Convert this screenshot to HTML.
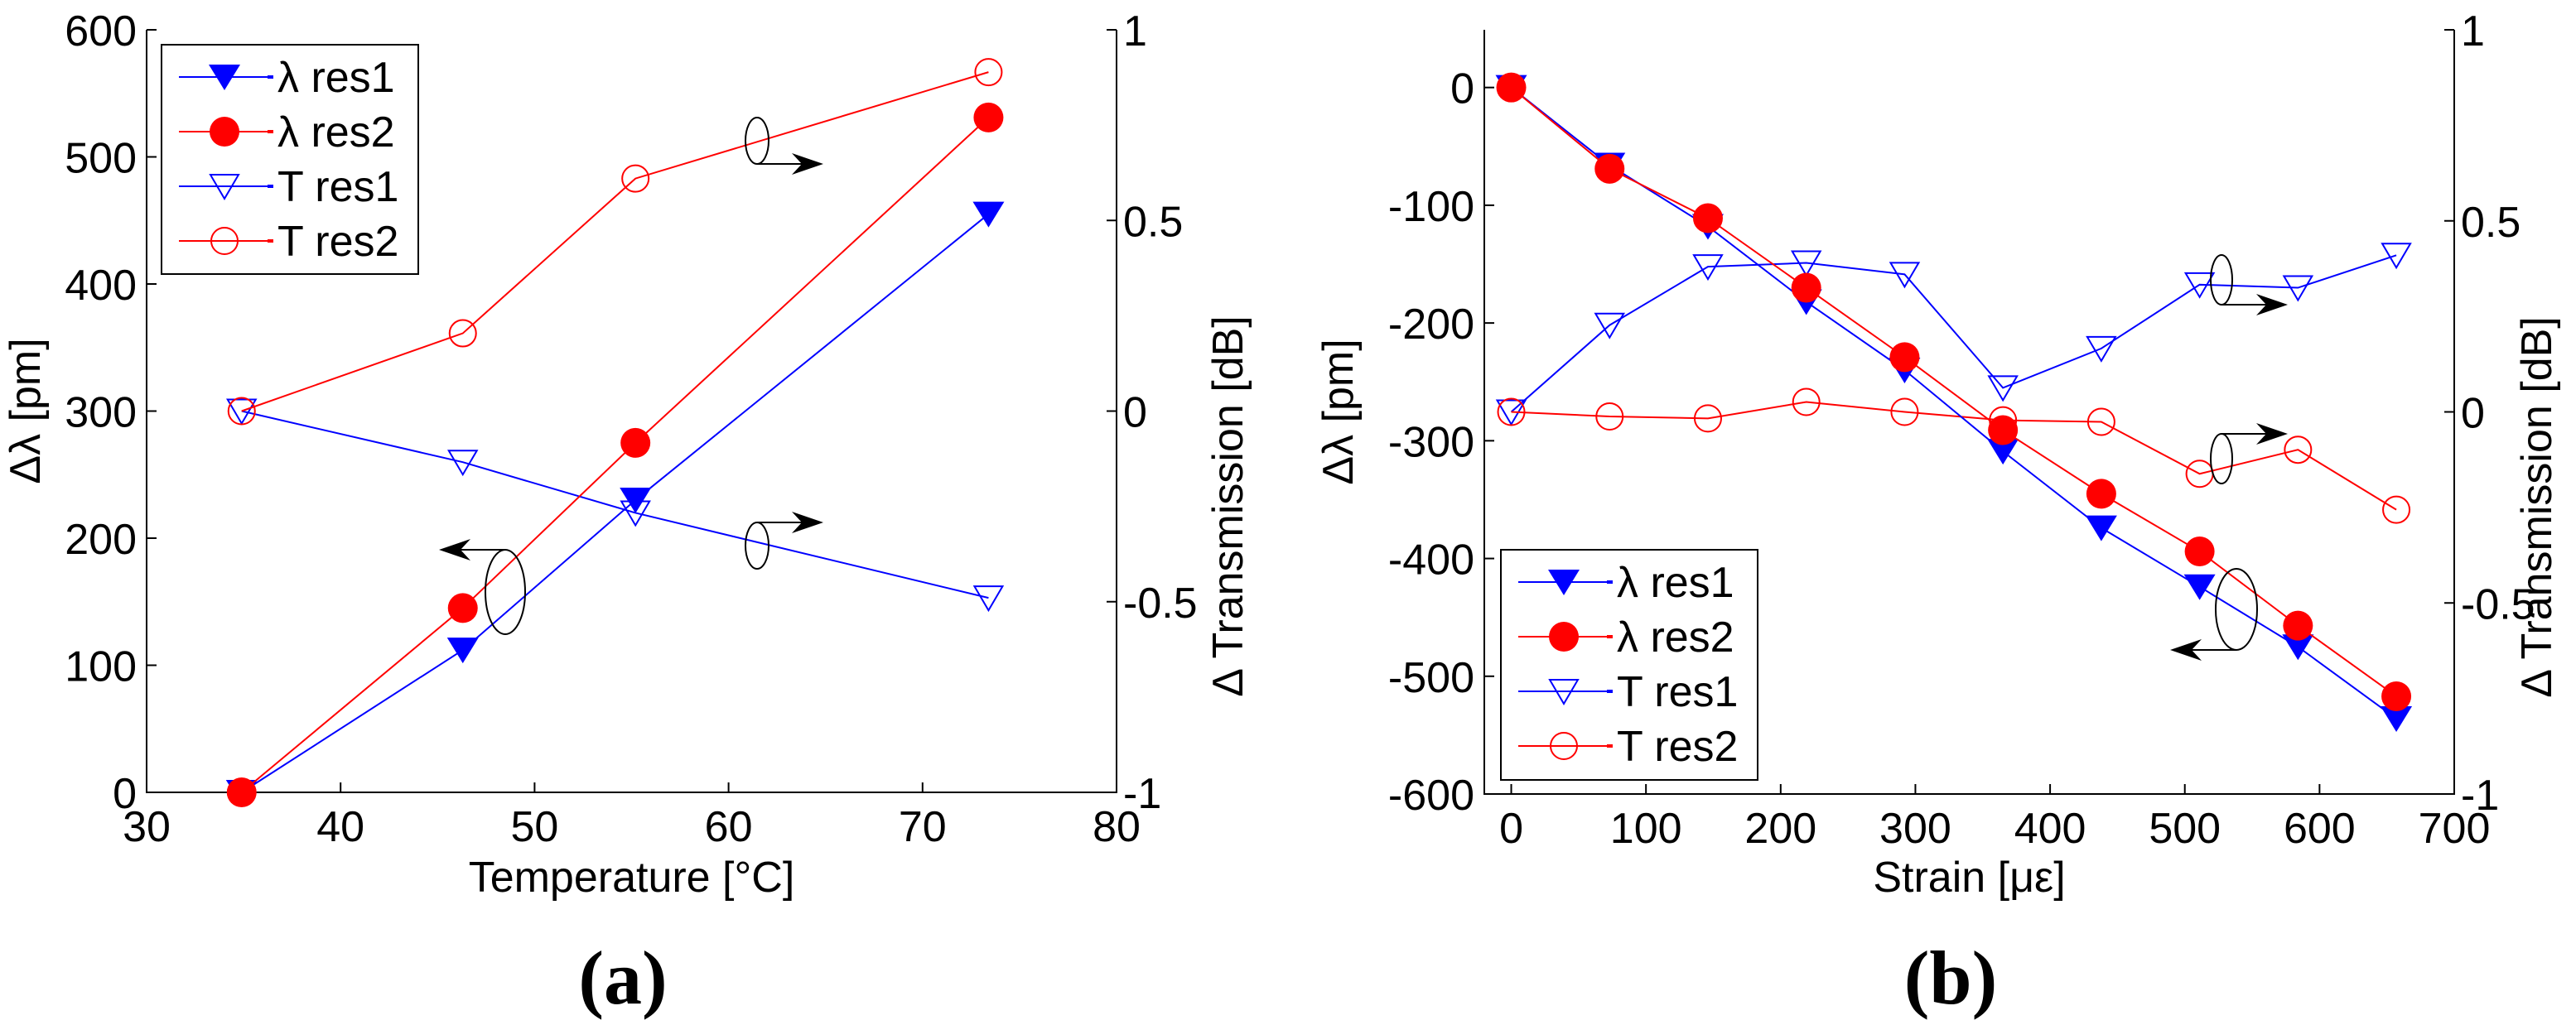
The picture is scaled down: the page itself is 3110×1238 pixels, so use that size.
<!DOCTYPE html>
<html><head><meta charset="utf-8"><style>
html,body{margin:0;padding:0;background:#fff;}
svg{display:block;}
text{font-family:"Liberation Sans",sans-serif;fill:#000;}
</style></head><body>
<svg id="fig" width="3110" height="1238" viewBox="0 0 3110 1238" xmlns="http://www.w3.org/2000/svg"></svg>
<script>
// Panel (a) data
const tempX = [34.9, 46.3, 55.2, 73.4];
const aLamRes1 = [0, 112, 230, 455];
const aLamRes2 = [0, 145, 275, 531];
const aTRes1 = [0, -0.134, -0.267, -0.49];
const aTRes2 = [0, 0.204, 0.61, 0.889];
const aXTicks = [30, 40, 50, 60, 70, 80];
const aYTicks = [0, 100, 200, 300, 400, 500, 600];
const rTicks = [-1, -0.5, 0, 0.5, 1];
const rTickLabels = ['-1', '-0.5', '0', '0.5', '1'];
// Panel (b) data
const strainX = [0, 73, 146, 219, 292, 365, 438, 511, 584, 657];
const bLamRes1 = [0, -66, -118, -182, -240, -309, -374, -424, -475, -536];
const bLamRes2 = [0, -69, -111, -170, -229, -291, -345, -394, -457, -517];
const bTRes1 = [0, 0.227, 0.38, 0.39, 0.36, 0.063, 0.166, 0.333, 0.325, 0.41];
const bTRes2 = [0, -0.012, -0.017, 0.026, 0, -0.022, -0.026, -0.162, -0.099, -0.256];
const bXTicks = [0, 100, 200, 300, 400, 500, 600, 700];
const bYTicks = [-600, -500, -400, -300, -200, -100, 0];

const NS = 'http://www.w3.org/2000/svg';
const svg = document.getElementById('fig');
function el(tag, attrs, parent, txt) {
  const e = document.createElementNS(NS, tag);
  for (const k in attrs) e.setAttribute(k, attrs[k]);
  if (txt !== undefined) e.textContent = txt;
  (parent || svg).appendChild(e);
  return e;
}
function marker(g, type, x, y, color) {
  let m;
  if (type === 'tri') {
    m = el('polygon', {points: `${x-19},${y-15} ${x+19},${y-15} ${x},${y+16}`, fill: color}, g);
  } else if (type === 'otri') {
    m = el('polygon', {points: `${x-17},${y-14} ${x+17},${y-14} ${x},${y+15}`, fill: 'none', stroke: color, 'stroke-width': 2}, g);
  } else if (type === 'dot') {
    m = el('circle', {cx: x, cy: y, r: 18, fill: color}, g);
  } else {
    m = el('circle', {cx: x, cy: y, r: 16, fill: 'none', stroke: color, 'stroke-width': 2}, g);
  }
  return m;
}
function series(g, name, xs, ys, sx, sy, color, type) {
  const sg = el('g', {}, g);
  
  
  const pts = xs.map((v, i) => `${sx(v)},${sy(ys[i])}`).join(' ');
  el('polyline', {points: pts, fill: 'none', stroke: color, 'stroke-width': 2}, sg);
  xs.forEach((v, i) => {
    const m = marker(sg, type, sx(v), sy(ys[i]), color);
    
    
  });
}
function legend(g, x0, y0, w, h) {
  const lg = el('g', {}, g);
  
  
  el('rect', {x: x0, y: y0, width: w, height: h, fill: '#fff', stroke: '#000', 'stroke-width': 2}, lg);
  const items = [['λ res1', 'blue', 'tri'], ['λ res2', 'red', 'dot'], ['T res1', 'blue', 'otri'], ['T res2', 'red', 'ocirc']];
  items.forEach((it, i) => {
    const y = y0 + 39 + i * 66;
    const eg = el('g', {}, lg);
    
    
    el('line', {x1: x0 + 21, y1: y, x2: x0 + 135, y2: y, stroke: it[1], 'stroke-width': 2}, eg);
    el('rect', {x: x0 + 128, y: y - 2, width: 7, height: 4, fill: it[1]}, eg);
    marker(eg, it[2], x0 + 76, y, it[1]);
    el('text', {x: x0 + 140, y: y + 18, 'font-size': 52}, eg, it[0]);
  });
}
function annot(g, cx, cy, rx, ry, fromTop, dir, len) {
  const ag = el('g', {}, g);
  
  
  el('ellipse', {cx, cy, rx, ry, fill: 'none', stroke: '#000', 'stroke-width': 2}, ag);
  const y = fromTop ? cy - ry : cy + ry;
  const x2 = cx + dir * len;
  el('line', {x1: cx, y1: y, x2: x2 - dir * 20, y2: y, stroke: '#000', 'stroke-width': 2}, ag);
  el('polygon', {points: `${x2},${y} ${x2 - dir * 38},${y - 13} ${x2 - dir * 26},${y} ${x2 - dir * 38},${y + 13}`, fill: '#000'}, ag);
}
function panel(cfg) {
  const g = el('g', {});
  
  
  const {L, R, T, B} = cfg;
  const sx = v => L + (v - cfg.xmin) / (cfg.xmax - cfg.xmin) * (R - L);
  const sy = v => B - (v - cfg.ymin) / (cfg.ymax - cfg.ymin) * (B - T);
  const sr = v => B - (v + 1) / 2 * (B - T);
  const ax = el('g', {}, g);
  
  
  el('path', {d: `M${L},${T} V${B} H${R} V${T}`, fill: 'none', stroke: '#000', 'stroke-width': 2}, ax);
  cfg.xticks.forEach(v => {
    const x = sx(v);
    el('line', {x1: x, y1: B, x2: x, y2: B - 12, stroke: '#000', 'stroke-width': 2}, ax);
    const t = el('text', {x: x, y: B + 59, 'font-size': 52, 'text-anchor': 'middle'}, ax, String(v));
    
    
  });
  cfg.yticks.forEach(v => {
    const y = sy(v);
    el('line', {x1: L, y1: y, x2: L + 12, y2: y, stroke: '#000', 'stroke-width': 2}, ax);
    const t = el('text', {x: L - 12, y: y + 19, 'font-size': 52, 'text-anchor': 'end'}, ax, String(v));
    
    
  });
  rTicks.forEach((v, i) => {
    const y = sr(v);
    el('line', {x1: R, y1: y, x2: R - 12, y2: y, stroke: '#000', 'stroke-width': 2}, ax);
    const t = el('text', {x: R + 8, y: y + 19, 'font-size': 52}, ax, rTickLabels[i]);
    
    
  });
  const xl = el('text', {x: (L + R) / 2, y: 1077, 'font-size': 52, 'text-anchor': 'middle'}, g, cfg.xlabel);
  
  
  const yl = el('text', {x: 0, y: 0, 'font-size': 52, 'text-anchor': 'middle', transform: `translate(${cfg.ylx},${(T + B) / 2}) rotate(-90)`}, g, 'Δλ [pm]');
  
  
  const rl = el('text', {x: 0, y: 0, 'font-size': 52, 'text-anchor': 'middle', transform: `translate(${cfg.rlx},${(T + B) / 2 + 115}) rotate(-90)`}, g, 'Δ Transmission [dB]');
  
  
  series(g, 't-res1-series', cfg.x, cfg.t1, sx, sr, 'blue', 'otri');
  series(g, 't-res2-series', cfg.x, cfg.t2, sx, sr, 'red', 'ocirc');
  series(g, 'lambda-res1-series', cfg.x, cfg.l1, sx, sy, 'blue', 'tri');
  series(g, 'lambda-res2-series', cfg.x, cfg.l2, sx, sy, 'red', 'dot');
  cfg.annots.forEach(a => annot(g, ...a));
  legend(g, ...cfg.leg);
  const cap = el('text', {x: cfg.capx, y: 1212, 'font-size': 92, 'font-weight': 'bold', 'text-anchor': 'middle', style: 'font-family:"Liberation Serif",serif'}, g, cfg.cap);
  
  
}
panel({name: 'panel-a-temperature', L: 177, R: 1348, T: 36, B: 957, xmin: 30, xmax: 80, ymin: 0, ymax: 600,
  xticks: aXTicks, yticks: aYTicks, x: tempX, l1: aLamRes1, l2: aLamRes2, t1: aTRes1, t2: aTRes2,
  xlabel: 'Temperature [°C]', ylx: 48, rlx: 1500, leg: [195, 54, 310, 277], cap: '(a)', capx: 752,
  annots: [[914, 170, 14, 28, false, 1, 80], [914, 659, 14, 28, true, 1, 80], [610, 715, 24, 51, true, -1, 80]]});
panel({name: 'panel-b-strain', L: 1792, R: 2963, T: 36, B: 959, xmin: -20, xmax: 700, ymin: -600, ymax: 49,
  xticks: bXTicks, yticks: bYTicks, x: strainX, l1: bLamRes1, l2: bLamRes2, t1: bTRes1, t2: bTRes2,
  xlabel: 'Strain [με]', ylx: 1633, rlx: 3080, leg: [1812, 664, 310, 278], cap: '(b)', capx: 2355,
  annots: [[2682, 338, 13, 30, false, 1, 80], [2682, 554, 13, 30, true, 1, 80], [2700, 736, 25, 49, false, -1, 80]]});
</script>
</body></html>
